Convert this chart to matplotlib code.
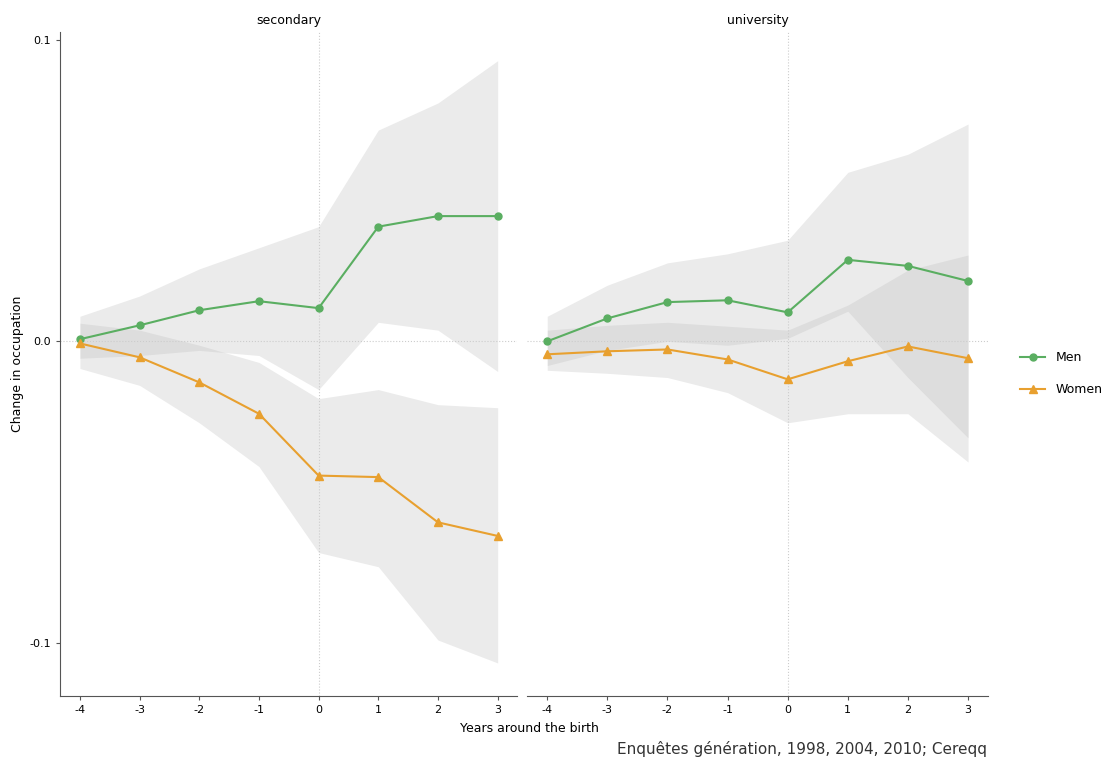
import matplotlib.pyplot as plt
import numpy as np

years = [-4, -3, -2, -1, 0, 1, 2, 3]

sec_men = [0.0007, 0.0053, 0.0103, 0.0133, 0.011, 0.038, 0.0415, 0.0415]
sec_men_hi = [0.0083, 0.015, 0.024, 0.031, 0.038, 0.070, 0.079, 0.093]
sec_men_lo = [-0.0056, -0.0047, -0.003, -0.0047, -0.016, 0.0063, 0.0037, -0.010]
sec_women = [-0.0007, -0.0053, -0.0136, -0.024, -0.0445, -0.045, -0.060, -0.0645]
sec_women_hi = [0.006, 0.0037, -0.0013, -0.007, -0.019, -0.016, -0.021, -0.022]
sec_women_lo = [-0.009, -0.0146, -0.027, -0.0415, -0.070, -0.0747, -0.099, -0.1066]

uni_men = [0.0, 0.0076, 0.013, 0.0136, 0.0096, 0.027, 0.025, 0.020]
uni_men_hi = [0.0083, 0.0186, 0.026, 0.029, 0.0335, 0.056, 0.062, 0.072]
uni_men_lo = [-0.008, -0.003, 0.0, -0.0013, 0.001, 0.010, -0.012, -0.032]
uni_women = [-0.0043, -0.0033, -0.0027, -0.006, -0.0126, -0.0066, -0.0017, -0.0056]
uni_women_hi = [0.0037, 0.0053, 0.0063, 0.005, 0.0037, 0.012, 0.0236, 0.0286]
uni_women_lo = [-0.0096, -0.0106, -0.012, -0.017, -0.027, -0.024, -0.024, -0.040]

GREEN = "#5aae61"
ORANGE = "#e8a02f"

panels = [
    ("secondary", sec_men, sec_men_lo, sec_men_hi, sec_women, sec_women_lo, sec_women_hi),
    ("university", uni_men, uni_men_lo, uni_men_hi, uni_women, uni_women_lo, uni_women_hi),
]

fig = plt.figure(figsize=(11.15, 7.63), dpi=100)
axes = [fig.add_axes([0.054, 0.088, 0.41, 0.87]), fig.add_axes([0.473, 0.088, 0.413, 0.87])]

for ax, (title, m, mlo, mhi, w, wlo, whi) in zip(axes, panels):
    ax.fill_between(years, mlo, mhi, color="#bdbdbd", alpha=0.3, linewidth=0)
    ax.fill_between(years, wlo, whi, color="#bdbdbd", alpha=0.3, linewidth=0)
    ax.axhline(0, color="#cccccc", linestyle=":", linewidth=0.8)
    ax.axvline(0, color="#cccccc", linestyle=":", linewidth=0.8)
    ax.plot(years, m, color=GREEN, marker="o", markersize=5, linewidth=1.5, label="Men")
    ax.plot(years, w, color=ORANGE, marker="^", markersize=6, linewidth=1.5, label="Women")
    ax.set_xlim(-4.33, 3.33)
    ax.set_ylim(-0.1175, 0.1025)
    ax.set_xticks(years)
    ax.set_xticklabels([str(y) for y in years])
    ax.set_title(title, fontsize=9, pad=6)
    for s in ["top", "right"]:
        ax.spines[s].set_visible(False)
    ax.spines["left"].set_visible(ax is axes[0])
    for s in ["left", "bottom"]:
        ax.spines[s].set_color("#555555")
        ax.spines[s].set_linewidth(0.8)
    ax.tick_params(labelsize=8, color="#555555", length=3)

axes[0].set_yticks([-0.1, 0.0, 0.1])
axes[0].set_yticklabels(["-0.1", "0.0", "0.1"])
axes[0].set_ylabel("Change in occupation", fontsize=9)
axes[1].set_yticks([])
axes[1].tick_params(left=False)

fig.text(0.475, 0.04, "Years around the birth", fontsize=9, ha="center")
fig.text(0.885, 0.012, "Enquêtes génération, 1998, 2004, 2010; Cereqq", fontsize=11, ha="right", color="#333333")
handles, labels = axes[0].get_legend_handles_labels()
fig.legend(handles, labels, loc="center left", bbox_to_anchor=(0.905, 0.51), frameon=False,
           fontsize=9, labelspacing=1.5)

fig.savefig("out.png", dpi=100)
